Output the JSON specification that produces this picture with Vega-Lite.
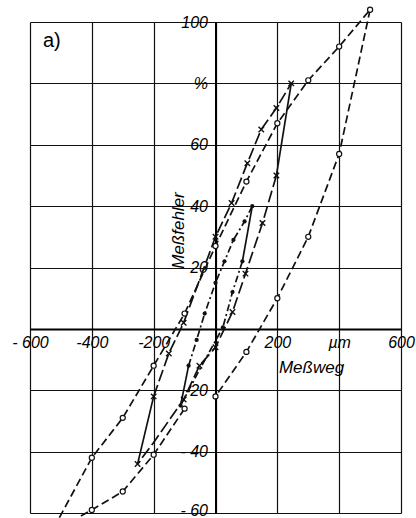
{
  "$schema": "https://vega.github.io/schema/vega-lite/v6.json",
  "width": 371,
  "height": 491,
  "autosize": {"type": "none"},
  "padding": {"left": 30, "top": 22, "right": 15, "bottom": 5},
  "background": "white",
  "title": {"text": "a)", "anchor": "start", "frame": "group", "offset": -46, "dx": 13, "fontSize": 20, "font": "Liberation Sans", "fontWeight": "normal", "color": "#000", "baseline": "top"},
  "config": {"view": {"stroke": null}},
  "data": {"values": [
    {"loop": "o", "part": "branch", "seg": "o-up", "seq": 1, "x": -505, "y": -61.5, "measured": false},
    {"loop": "o", "part": "branch", "seg": "o-up", "seq": 2, "x": -400, "y": -42, "measured": true},
    {"loop": "o", "part": "branch", "seg": "o-up", "seq": 3, "x": -300, "y": -29, "measured": true},
    {"loop": "o", "part": "branch", "seg": "o-up", "seq": 4, "x": -200, "y": -12, "measured": true},
    {"loop": "o", "part": "branch", "seg": "o-up", "seq": 5, "x": -100, "y": 5, "measured": true},
    {"loop": "o", "part": "branch", "seg": "o-up", "seq": 6, "x": 0, "y": 27, "measured": true},
    {"loop": "o", "part": "branch", "seg": "o-up", "seq": 7, "x": 100, "y": 48, "measured": true},
    {"loop": "o", "part": "branch", "seg": "o-up", "seq": 8, "x": 200, "y": 67, "measured": true},
    {"loop": "o", "part": "branch", "seg": "o-up", "seq": 9, "x": 300, "y": 81, "measured": true},
    {"loop": "o", "part": "branch", "seg": "o-up", "seq": 10, "x": 400, "y": 92, "measured": true},
    {"loop": "o", "part": "branch", "seg": "o-up", "seq": 11, "x": 500, "y": 104, "measured": true},
    {"loop": "o", "part": "branch", "seg": "o-down", "seq": 1, "x": 500, "y": 104, "measured": false},
    {"loop": "o", "part": "branch", "seg": "o-down", "seq": 2, "x": 400, "y": 57, "measured": true},
    {"loop": "o", "part": "branch", "seg": "o-down", "seq": 3, "x": 300, "y": 30, "measured": true},
    {"loop": "o", "part": "branch", "seg": "o-down", "seq": 4, "x": 200, "y": 10, "measured": true},
    {"loop": "o", "part": "branch", "seg": "o-down", "seq": 5, "x": 100, "y": -7.5, "measured": true},
    {"loop": "o", "part": "branch", "seg": "o-down", "seq": 6, "x": 0, "y": -22, "measured": true},
    {"loop": "o", "part": "branch", "seg": "o-low", "seq": 1, "x": -100, "y": -26, "measured": true},
    {"loop": "o", "part": "branch", "seg": "o-low", "seq": 2, "x": -200, "y": -41, "measured": true},
    {"loop": "o", "part": "branch", "seg": "o-low", "seq": 3, "x": -300, "y": -53, "measured": true},
    {"loop": "o", "part": "branch", "seg": "o-low", "seq": 4, "x": -400, "y": -59, "measured": true},
    {"loop": "o", "part": "branch", "seg": "o-low", "seq": 5, "x": -445, "y": -61.5, "measured": false},

    {"loop": "x", "part": "branch", "seg": "x-up", "seq": 1, "x": -200, "y": -22, "measured": true},
    {"loop": "x", "part": "branch", "seg": "x-up", "seq": 2, "x": -151, "y": -8, "measured": true},
    {"loop": "x", "part": "branch", "seg": "x-up", "seq": 3, "x": -103, "y": 2, "measured": true},
    {"loop": "x", "part": "branch", "seg": "x-up", "seq": 4, "x": 0, "y": 30, "measured": true},
    {"loop": "x", "part": "branch", "seg": "x-up", "seq": 5, "x": 52, "y": 41, "measured": true},
    {"loop": "x", "part": "branch", "seg": "x-up", "seq": 6, "x": 103, "y": 54, "measured": true},
    {"loop": "x", "part": "branch", "seg": "x-up", "seq": 7, "x": 148, "y": 65, "measured": true},
    {"loop": "x", "part": "branch", "seg": "x-up", "seq": 8, "x": 197, "y": 72, "measured": true},
    {"loop": "x", "part": "branch", "seg": "x-up", "seq": 9, "x": 245, "y": 80, "measured": true},
    {"loop": "x", "part": "reversal", "seg": "x-jtop", "seq": 1, "x": 245, "y": 80, "measured": false},
    {"loop": "x", "part": "reversal", "seg": "x-jtop", "seq": 2, "x": 197, "y": 50, "measured": false},
    {"loop": "x", "part": "branch", "seg": "x-down", "seq": 1, "x": 197, "y": 50, "measured": true},
    {"loop": "x", "part": "branch", "seg": "x-down", "seq": 2, "x": 152, "y": 34.5, "measured": true},
    {"loop": "x", "part": "branch", "seg": "x-down", "seq": 3, "x": 97, "y": 18, "measured": true},
    {"loop": "x", "part": "branch", "seg": "x-down", "seq": 4, "x": 55, "y": 5.5, "measured": true},
    {"loop": "x", "part": "branch", "seg": "x-down", "seq": 5, "x": 0, "y": -6, "measured": true},
    {"loop": "x", "part": "branch", "seg": "x-down", "seq": 6, "x": -52, "y": -12, "measured": true},
    {"loop": "x", "part": "branch", "seg": "x-down", "seq": 7, "x": -103, "y": -23, "measured": true},
    {"loop": "x", "part": "branch", "seg": "x-down", "seq": 8, "x": -200, "y": -37, "measured": false},
    {"loop": "x", "part": "branch", "seg": "x-down", "seq": 9, "x": -252, "y": -44, "measured": true},
    {"loop": "x", "part": "reversal", "seg": "x-jbot", "seq": 1, "x": -252, "y": -44, "measured": false},
    {"loop": "x", "part": "reversal", "seg": "x-jbot", "seq": 2, "x": -200, "y": -22, "measured": false},

    {"loop": "dot", "part": "branch", "seg": "dot-up", "seq": 1, "x": -87, "y": -12, "measured": true},
    {"loop": "dot", "part": "branch", "seg": "dot-up", "seq": 2, "x": -61, "y": -3.6, "measured": true},
    {"loop": "dot", "part": "branch", "seg": "dot-up", "seq": 3, "x": -35, "y": 5, "measured": true},
    {"loop": "dot", "part": "branch", "seg": "dot-up", "seq": 4, "x": 0, "y": 15, "measured": true},
    {"loop": "dot", "part": "branch", "seg": "dot-up", "seq": 5, "x": 29, "y": 22, "measured": true},
    {"loop": "dot", "part": "branch", "seg": "dot-up", "seq": 6, "x": 58, "y": 29, "measured": true},
    {"loop": "dot", "part": "branch", "seg": "dot-up", "seq": 7, "x": 94, "y": 35, "measured": true},
    {"loop": "dot", "part": "branch", "seg": "dot-up", "seq": 8, "x": 119, "y": 40, "measured": true},
    {"loop": "dot", "part": "reversal", "seg": "dot-jtop", "seq": 1, "x": 119, "y": 40, "measured": false},
    {"loop": "dot", "part": "reversal", "seg": "dot-jtop", "seq": 2, "x": 87, "y": 22, "measured": false},
    {"loop": "dot", "part": "branch", "seg": "dot-down", "seq": 1, "x": 87, "y": 22, "measured": true},
    {"loop": "dot", "part": "branch", "seg": "dot-down", "seq": 2, "x": 55, "y": 12, "measured": true},
    {"loop": "dot", "part": "branch", "seg": "dot-down", "seq": 3, "x": 24, "y": 0.5, "measured": true},
    {"loop": "dot", "part": "branch", "seg": "dot-down", "seq": 4, "x": -50, "y": -13, "measured": false},
    {"loop": "dot", "part": "branch", "seg": "dot-down", "seq": 5, "x": -113, "y": -25, "measured": true},
    {"loop": "dot", "part": "reversal", "seg": "dot-jbot", "seq": 1, "x": -113, "y": -25, "measured": false},
    {"loop": "dot", "part": "reversal", "seg": "dot-jbot", "seq": 2, "x": -87, "y": -12, "measured": false}
  ]},
  "encoding": {
    "x": {
      "field": "x", "type": "quantitative",
      "scale": {"domain": [-600, 600], "nice": false, "zero": false},
      "axis": {
        "values": [-600, -400, -200, 0, 200, 400, 600],
        "offset": -184,
        "grid": true, "gridColor": "#111", "gridWidth": 1.2, "gridOpacity": 1,
        "ticks": false, "tickSize": 0,
        "domainColor": "#000", "domainWidth": 2,
        "labelExpr": "datum.value == 0 ? '' : datum.value == 400 ? 'µm' : datum.value == -600 ? '- 600' : datum.value == -400 ? '-400' : datum.value == -200 ? '-200' : datum.label",
        "labelFont": "Liberation Sans", "labelFontStyle": "italic", "labelFontSize": 16, "labelColor": "#000",
        "labelPadding": 5, "labelFlush": false, "labelOverlap": false, "labelBound": false,
        "title": "Meßweg", "titleX": 281, "titleY": 38, "titleFont": "Liberation Sans", "titleFontStyle": "italic",
        "titleFontWeight": "normal", "titleFontSize": 17, "titleColor": "#000", "titleAlign": "center", "titleBaseline": "middle"
      }
    },
    "y": {
      "field": "y", "type": "quantitative",
      "scale": {"domain": [-60, 100], "nice": false, "zero": false},
      "axis": {
        "values": [-60, -40, -20, 0, 20, 40, 60, 80, 100],
        "offset": -185.5,
        "grid": true, "gridColor": "#111", "gridWidth": 1.2, "gridOpacity": 1,
        "ticks": false, "tickSize": 0,
        "domainColor": "#000", "domainWidth": 2,
        "labelExpr": "datum.value == 0 ? '' : datum.value == 80 ? '%' : datum.value == -20 ? '-20' : datum.value == -40 ? '- 40' : datum.value == -60 ? '- 60' : datum.label",
        "labelFont": "Liberation Sans", "labelFontStyle": "italic", "labelFontSize": 16, "labelColor": "#000",
        "labelOffset": {"condition": {"test": "datum.value == -60", "value": -3}, "value": 0},
        "labelPadding": 8, "labelFlush": false, "labelOverlap": false, "labelBound": false,
        "title": "Meßfehler", "titleX": -37, "titleY": 208, "titleAngle": -90, "titleFont": "Liberation Sans", "titleFontStyle": "italic",
        "titleFontWeight": "normal", "titleFontSize": 17, "titleColor": "#000", "titleAlign": "center", "titleBaseline": "middle"
      }
    }
  },
  "layer": [
    {
      "transform": [{"filter": "datum.part == 'branch'"}],
      "mark": {"type": "line", "color": "#111", "strokeWidth": 1.7},
      "encoding": {
        "detail": {"field": "seg", "type": "nominal"},
        "order": {"field": "seq", "type": "quantitative"},
        "strokeDash": {"field": "loop", "type": "nominal", "scale": {"domain": ["o", "x", "dot"], "range": [[8, 4], [12, 4], [7, 3, 2, 3]]}, "legend": null}
      }
    },
    {
      "transform": [{"filter": "datum.part == 'reversal'"}],
      "mark": {"type": "line", "color": "#111", "strokeWidth": 1.7},
      "encoding": {
        "detail": {"field": "seg", "type": "nominal"},
        "order": {"field": "seq", "type": "quantitative"}
      }
    },
    {
      "transform": [{"filter": "datum.measured && datum.loop == 'o'"}],
      "mark": {"type": "point", "shape": "circle", "filled": true, "fill": "white", "stroke": "#111", "strokeWidth": 1.2, "size": 26, "opacity": 1}
    },
    {
      "transform": [{"filter": "datum.measured && datum.loop == 'x'"}],
      "mark": {"type": "point", "shape": "M-1,-1L1,1M1,-1L-1,1", "filled": false, "stroke": "#111", "strokeWidth": 1.4, "size": 30, "opacity": 1}
    },
    {
      "transform": [{"filter": "datum.measured && datum.loop == 'dot'"}],
      "mark": {"type": "point", "shape": "circle", "filled": true, "color": "#111", "size": 18, "opacity": 1}
    }
  ]
}
